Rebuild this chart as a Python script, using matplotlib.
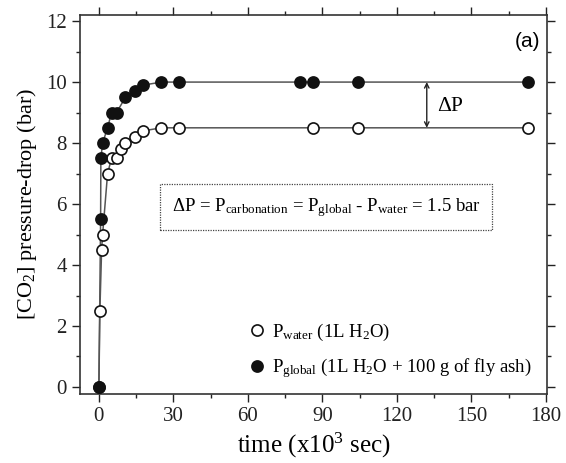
import matplotlib
matplotlib.use("Agg")
import matplotlib.pyplot as plt
from matplotlib.ticker import MultipleLocator

plt.rcParams['font.family'] = ['Liberation Serif', 'DejaVu Serif']
plt.rcParams['mathtext.fontset'] = 'custom'
plt.rcParams['mathtext.rm'] = 'Liberation Serif'
plt.rcParams['mathtext.it'] = 'Liberation Serif:italic'

# time in 10^3 sec, pressure drop in bar
t_water = [0, 0.4, 1.1, 1.5, 3.5, 5.1, 7.1, 8.9, 10.7, 14.5, 17.8, 25.2, 32.2, 86.3, 104.4, 172.9]
p_water = [0, 2.5, 4.5, 5.0, 7.0, 7.5, 7.5, 7.8, 8.0, 8.2, 8.4, 8.5, 8.5, 8.5, 8.5, 8.5]

t_global = [0, 0.7, 0.8, 1.5, 3.5, 5.1, 7.1, 10.7, 14.5, 17.8, 25.2, 32.2, 81.0, 86.3, 104.4, 172.9]
p_global = [0, 5.5, 7.5, 8.0, 8.5, 9.0, 9.0, 9.5, 9.7, 9.9, 10.0, 10.0, 10.0, 10.0, 10.0, 10.0]

fig = plt.figure(figsize=(5.66, 4.63), dpi=100)
ax = fig.add_axes([80 / 566, 69 / 463, 467 / 566, 379 / 463])

line_col = '#555555'
ax.plot(t_water, p_water, '-', color=line_col, lw=1.1, zorder=1)
ax.plot(t_global, p_global, '-', color=line_col, lw=1.1, zorder=1)
ax.plot(t_water, p_water, 'o', ms=8, mfc='white', mec='#111111', mew=1.2,
        ls='none', zorder=3, label=r'P$_{\mathrm{water}}$ (1L H$_2$O)')
ax.plot(t_global, p_global, 'o', ms=8, mfc='#111111', mec='#111111', mew=1.2,
        ls='none', zorder=4, label=r'P$_{\mathrm{global}}$ (1L H$_2$O + 100 g of fly ash)')

ax.set_xlim(-7.6, 180.4)
ax.set_ylim(-0.23, 12.2)
ax.xaxis.set_major_locator(MultipleLocator(30))
ax.xaxis.set_minor_locator(MultipleLocator(15))
ax.yaxis.set_major_locator(MultipleLocator(2))
ax.yaxis.set_minor_locator(MultipleLocator(1))
ax.tick_params(which='both', direction='out', top=True, right=True,
               labelsize=15, colors='#222222', width=1.0)
ax.tick_params(which='major', length=6)
ax.tick_params(which='minor', length=3)
for s in ax.spines.values():
    s.set_linewidth(1.2)
    s.set_color('#333333')

ax.set_xlabel(r'time (x10$^3$ sec)', fontsize=18, labelpad=3)
ax.set_ylabel(r'[CO$_2$] pressure-drop (bar)', fontsize=16, labelpad=5)

# delta P arrow
ax.annotate('', xy=(132, 10.0), xytext=(132, 8.5),
            arrowprops=dict(arrowstyle='<->', color='#222222', lw=1.0,
                            mutation_scale=8, shrinkA=0, shrinkB=0))
ax.text(136, 9.2, r'$\Delta$P', fontsize=15.5, va='center', ha='left')

ax.text(91.5, 5.9,
        r'$\Delta$P = P$_{\mathrm{carbonation}}$ = P$_{\mathrm{global}}$ - P$_{\mathrm{water}}$ = 1.5 bar',
        fontsize=13.5, ha='center', va='center',
        bbox=dict(boxstyle='square,pad=0.6', fc='white', ec='#444444',
                  ls=(0, (1, 1)), lw=0.9))

ax.text(0.985, 0.955, '(a)', transform=ax.transAxes, ha='right', va='top',
        fontsize=15, family='Liberation Sans')

ax.legend(loc='lower right', bbox_to_anchor=(1.0, -0.003), frameon=False,
          fontsize=13.5, handletextpad=0.2, handlelength=1.2, labelspacing=0.7,
          borderpad=0.3)

fig.savefig('out.png', dpi=100)
